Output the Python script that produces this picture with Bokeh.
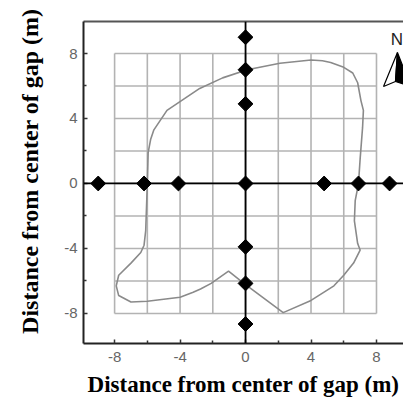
import numpy as np
from bokeh.plotting import figure
from bokeh.models import Range1d, FixedTicker, LinearAxis, Span, Label, Title
from bokeh.embed import file_html
from bokeh.resources import INLINE

# ---- data ----
tick_values = [-8, -4, 0, 4, 8]
tick_labels = ["-8", "-4", "0", "4", "8"]
minor_tick_values = [-6, -2, 2, 6]
grid_values = [-8, -6, -4, -2, 0, 2, 4, 6, 8]

# sample points along the E-W axis (y = 0)
ew_x = [-9.0, -6.2, -4.1, 0.0, 4.8, 6.9, 8.8]
# sample points along the N-S axis (x = 0)
ns_y = [9.0, 7.0, 4.9, -3.9, -6.15, -8.65]

# gap outline
gap_x = [0.1, 2.1, 4.0, 4.7, 5.2, 6.0, 6.55, 6.85, 7.05, 7.2, 7.15, 7.0, 6.9, 6.7,
         6.65, 6.85, 7.0, 6.6, 6.0, 5.4, 4.0, 2.3, -0.1, -1.04, -2.1, -2.75, -3.2,
         -4.0, -6.0, -7.0, -7.75, -7.9, -7.75, -7.0, -6.4, -6.2, -6.1, -6.0, -5.95,
         -5.8, -5.6, -4.8, -2.8, -1.4, 0.1]
gap_y = [7.0, 7.4, 7.6, 7.55, 7.45, 7.15, 6.8, 6.2, 5.1, 4.5, 3.45, 1.5, 0.0, -1.05,
         -2.3, -3.7, -4.1, -4.9, -5.65, -6.3, -7.2, -7.95, -6.15, -5.4, -6.15, -6.5,
         -6.7, -7.0, -7.25, -7.3, -6.9, -6.3, -5.65, -4.9, -4.25, -3.8, -2.9, 0.0,
         1.9, 2.7, 3.3, 4.5, 5.85, 6.5, 7.0]

x_title = "Distance from center of gap (m)"
y_title = "Distance from center of gap (m)"

# ---- figure ----
p = figure(width=403, height=405, output_backend="svg", toolbar_location=None,
           x_range=Range1d(-9.9, 9.65), y_range=Range1d(-9.85, 9.97),
           min_border_left=83, min_border_right=0, min_border_top=21,
           min_border_bottom=62, title=None)
p.outline_line_color = None
p.xgrid.visible = False
p.ygrid.visible = False
p.background_fill_color = "white"
p.border_fill_color = "white"

for ax in (p.xaxis[0], p.yaxis[0]):
    ax.ticker = FixedTicker(ticks=tick_values, minor_ticks=minor_tick_values)
    ax.major_label_overrides = {v: s for v, s in zip(tick_values, tick_labels)}
    ax.axis_line_color = "#222222"
    ax.axis_line_width = 2
    ax.major_tick_in = 4
    ax.major_tick_out = 0
    ax.minor_tick_in = 3
    ax.minor_tick_out = 0
    ax.major_tick_line_color = "#333333"
    ax.minor_tick_line_color = "#333333"
    ax.major_tick_line_width = 1.5
    ax.minor_tick_line_width = 1.5
    ax.major_label_text_font = "Liberation Sans"
    ax.major_label_text_font_size = "15px"
    ax.major_label_text_color = "#666666"
p.xaxis[0].major_label_standoff = 8
p.yaxis[0].major_label_standoff = 6

top_axis = LinearAxis(ticker=FixedTicker(ticks=[]), axis_line_color="#555555",
                      axis_line_width=2, major_label_text_font_size="0px",
                      major_tick_line_color=None, minor_tick_line_color=None)
p.add_layout(top_axis, "above")

# axis titles
p.add_layout(Title(text=x_title, align="center", text_font="Liberation Serif",
                   text_font_style="bold", text_font_size="23px",
                   text_color="black", standoff=11), "below")
p.add_layout(Title(text=y_title, align="right", vertical_align="top",
                   text_font="Liberation Serif",
                   text_font_style="bold", text_font_size="24px",
                   text_color="black", standoff=33, offset=-13), "left")

# grid box (-8..8)
g0 = [min(grid_values)] * len(grid_values)
g1 = [max(grid_values)] * len(grid_values)
p.segment(x0=grid_values, y0=g0, x1=grid_values, y1=g1,
          line_color="#b3b3b3", line_width=1.6)
p.segment(x0=g0, y0=grid_values, x1=g1, y1=grid_values,
          line_color="#b3b3b3", line_width=1.6)

# gap outline
p.line(gap_x, gap_y, line_color="#8a8a8a", line_width=1.6)

# main transects
p.add_layout(Span(location=0, dimension="width", line_color="black", line_width=1.8))
p.add_layout(Span(location=0, dimension="height", line_color="black", line_width=1.8))

# sample markers
p.scatter(ew_x, [0] * len(ew_x), marker="square", angle=np.pi / 4, size=10.5,
          fill_color="black", line_color="black")
p.scatter([0] * len(ns_y), ns_y, marker="square", angle=np.pi / 4, size=10.5,
          fill_color="black", line_color="black")

# north arrow
p.patch([9.28, 8.43, 9.16], [8.06, 5.97, 6.28], fill_color="white",
        line_color="black", line_width=1.2)
p.patch([9.28, 9.16, 10.1], [8.06, 6.28, 5.97], fill_color="black",
        line_color="black", line_width=1.2)
p.add_layout(Label(x=9.25, y=8.3, text="N", text_align="center",
                   text_baseline="bottom", text_font="Liberation Sans",
                   text_font_size="17px", text_color="#222222"))

open("out.html", "w").write(file_html(p, INLINE))
